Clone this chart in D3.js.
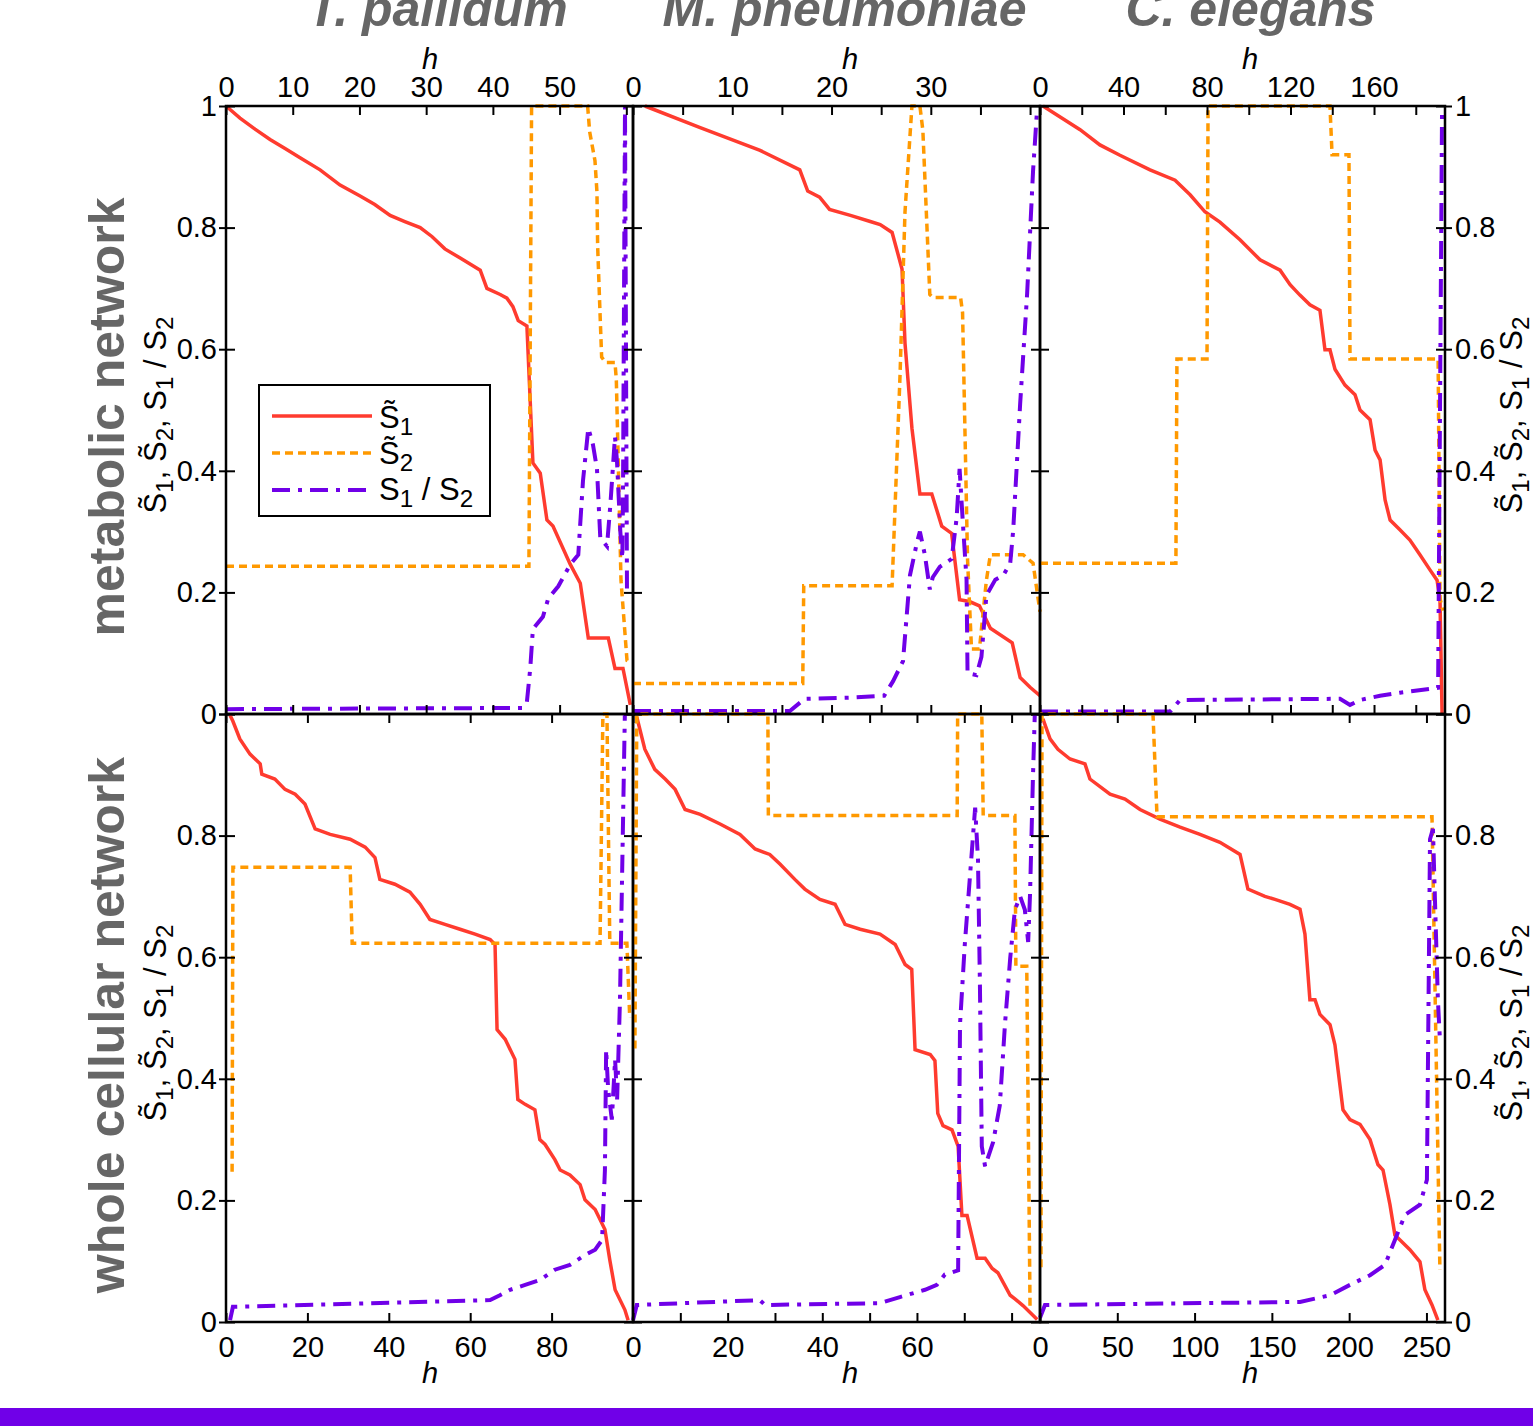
<!DOCTYPE html>
<meta charset="utf-8">
<style>
html, body {
  margin: 0;
  background: #fff;
}

svg text {
  font-family: "Liberation Sans", Arial, sans-serif;
}

.s1 {
  fill: none;
  stroke: #ff3b2f;
  stroke-width: 3.5px;
}

.s2 {
  fill: none;
  stroke: #ff9900;
  stroke-width: 3.5px;
  stroke-dasharray: 8, 5;
}

.ratio {
  fill: none;
  stroke: #7000e8;
  stroke-width: 4px;
  stroke-dasharray: 18, 8, 4, 8;
}

.frame {
  fill: none;
  stroke: #000;
  stroke-width: 2.5px;
}

.tick line {
  stroke: #000;
  stroke-width: 2px;
}
</style>

<svg width="1533" height="1426"></svg>

<script src="https://d3js.org/d3.v7.min.js"></script>
<script>

// --- data: [h, value] pairs ---

// T. pallidum, metabolic network
var tpMetS1 = [[0,1],[2.1,0.98],[4.35,0.962],[6.6,0.945],[8.85,0.93],[11.1,0.915],[14.1,0.895],[17.1,0.87],[20.1,0.852],[22.3,0.838],[24.6,0.82],[26.8,0.81],[29.1,0.8],[30.9,0.785],[32.8,0.765],[35.1,0.75],[38.1,0.73],[39.1,0.7],[41.1,0.69],[42.1,0.684],[43.0,0.67],[43.8,0.647],[45.1,0.638],[46.0,0.413],[47.1,0.396],[48.1,0.319],[49.0,0.309],[51.6,0.246],[53.1,0.215],[54.3,0.125],[57.3,0.125],[58.3,0.075],[59.5,0.075],[60.6,0.015]];
var tpMetS2 = [[0,0.243],[45.4,0.243],[45.8,1],[54.2,1],[54.5,0.958],[55.3,0.91],[55.6,0.858],[55.7,0.77],[56.0,0.677],[56.3,0.587],[56.9,0.578],[58.3,0.578],[58.5,0.55],[59.2,0.22],[60.1,0.088],[60.6,0.085]];
var tpMetRatio = [[0,0.008],[44.4,0.01],[45.1,0.02],[45.6,0.075],[46.0,0.14],[47.5,0.16],[48.3,0.19],[49.8,0.21],[51.6,0.246],[52.8,0.262],[53.5,0.383],[54.3,0.47],[55.0,0.443],[55.6,0.403],[56.1,0.289],[57.1,0.276],[57.6,0.343],[58.3,0.456],[58.6,0.416],[59.1,0.3],[59.4,0.256],[59.5,0.36],[59.8,1],[60.1,0.2]];

// M. pneumoniae, metabolic network
var mpMetS1 = [[1.2,1],[6.7,0.965],[12.8,0.927],[16.8,0.895],[17.6,0.86],[18.8,0.85],[19.8,0.83],[21.9,0.82],[23.9,0.81],[24.9,0.805],[26.1,0.792],[27.1,0.732],[27.4,0.61],[28.1,0.47],[28.9,0.362],[30.1,0.362],[31.1,0.309],[32.1,0.297],[32.9,0.188],[33.9,0.185],[34.9,0.178],[36.0,0.141],[38.2,0.117],[39.0,0.06],[40.0,0.044],[41.0,0.03]];
var mpMetS2 = [[0,0.05],[17.1,0.05],[17.2,0.211],[26.1,0.211],[26.9,0.557],[27.4,0.826],[28.1,1],[28.9,1],[29.2,0.96],[29.9,0.69],[30.2,0.685],[33.0,0.685],[33.2,0.66],[33.7,0.255],[34.1,0.107],[34.9,0.107],[35.6,0.22],[36.0,0.262],[39.3,0.262],[40.3,0.248],[41.0,0.168]];
var mpMetRatio = [[0,0.005],[15.8,0.005],[17.3,0.025],[21.9,0.027],[25.3,0.03],[26.2,0.054],[27.2,0.087],[27.9,0.228],[28.6,0.282],[28.9,0.3],[29.4,0.262],[29.9,0.205],[30.2,0.225],[30.9,0.242],[32.1,0.255],[32.6,0.322],[32.9,0.403],[33.2,0.322],[33.6,0.221],[33.7,0.067],[34.6,0.064],[35.1,0.094],[35.6,0.195],[36.5,0.221],[37.3,0.228],[38.0,0.248],[38.3,0.302],[39.0,0.51],[39.7,0.69],[40.3,0.893],[40.7,0.993]];

// C. elegans, metabolic network
var ceMetS1 = [[1.4,1],[19.2,0.961],[28.7,0.936],[38.3,0.919],[52.7,0.895],[64.7,0.878],[71.9,0.854],[79.0,0.826],[86.2,0.809],[95.8,0.78],[105.4,0.747],[115.0,0.73],[119.8,0.706],[124.5,0.689],[129.3,0.673],[134.1,0.664],[136.5,0.599],[138.9,0.599],[141.3,0.567],[146.1,0.541],[150.9,0.525],[153.3,0.5],[158.1,0.484],[160.5,0.434],[162.9,0.418],[165.3,0.352],[167.7,0.319],[172.4,0.303],[177.2,0.286],[182.0,0.262],[186.8,0.237],[190.2,0.22],[191.6,0.188],[192.6,0]];
var ceMetS2 = [[0,0.248],[65.1,0.248],[65.6,0.584],[80.0,0.584],[80.5,1],[138.9,1],[139.9,0.92],[148.0,0.92],[148.5,0.584],[190.7,0.584],[191.6,0.19],[193.0,0.17]];
var ceMetRatio = [[0,0.004],[62.3,0.004],[67.1,0.023],[143.7,0.025],[148.5,0.015],[153.3,0.023],[162.9,0.03],[172.4,0.035],[190.7,0.043],[192.6,1]];

// T. pallidum, whole cellular network
var tpCellS1 = [[1.0,0.998],[1.7,0.988],[3.4,0.959],[5.9,0.934],[8.4,0.918],[8.8,0.901],[12.0,0.893],[14.5,0.876],[17.0,0.868],[19.4,0.852],[21.9,0.811],[25.6,0.802],[30.5,0.794],[34.2,0.781],[36.6,0.764],[37.8,0.728],[41.5,0.72],[45.2,0.707],[47.7,0.687],[50.1,0.662],[53.8,0.654],[57.5,0.646],[61.2,0.638],[64.9,0.629],[66.1,0.621],[66.6,0.481],[68.6,0.465],[71.0,0.432],[71.7,0.366],[73.5,0.358],[75.9,0.349],[77.1,0.3],[78.4,0.292],[80.8,0.267],[82.1,0.25],[84.5,0.242],[87.0,0.226],[88.2,0.201],[90.7,0.185],[93.1,0.152],[94.3,0.102],[95.6,0.053],[98.0,0.02],[98.8,0.003]];
var tpCellS2 = [[1.5,0.247],[1.7,0.748],[30.5,0.748],[31.0,0.623],[91.9,0.623],[92.6,1],[93.6,1],[94.3,0.623],[98.5,0.623],[99.2,0.5]];
var tpCellRatio = [[1.0,0.003],[1.7,0.025],[64.9,0.036],[67.3,0.044],[69.8,0.053],[73.5,0.061],[77.1,0.069],[80.8,0.086],[84.5,0.094],[88.2,0.11],[90.7,0.119],[92.4,0.135],[93.1,0.25],[93.4,0.448],[93.9,0.382],[94.8,0.333],[95.6,0.432],[96.1,0.366],[96.8,0.53],[98.0,1]];

// M. pneumoniae, whole cellular network
var mpCellS1 = [[0.8,0.995],[2.5,0.942],[4.6,0.909],[6.8,0.893],[8.9,0.876],[11.0,0.843],[14.2,0.835],[18.4,0.819],[22.6,0.802],[25.8,0.778],[28.9,0.769],[31.1,0.753],[34.2,0.728],[36.3,0.712],[39.5,0.695],[42.7,0.687],[44.8,0.654],[48.0,0.646],[52.2,0.638],[55.4,0.621],[57.5,0.588],[58.9,0.58],[59.6,0.448],[62.8,0.44],[63.8,0.43],[64.4,0.343],[65.5,0.323],[67.4,0.316],[68.7,0.289],[69.5,0.175],[70.6,0.175],[72.7,0.105],[74.4,0.105],[75.9,0.088],[77.1,0.081],[79.7,0.044],[80.7,0.038],[82.4,0.027],[84.5,0.011],[85.4,0.004]];
var mpCellS2 = [[0.4,0.45],[0.8,1],[28.5,1],[28.6,0.833],[68.5,0.833],[68.6,1],[73.7,1],[74.0,0.833],[80.7,0.833],[80.9,0.585],[83.2,0.585],[83.9,0.02]];
var mpCellRatio = [[0,0.003],[0.8,0.028],[26.8,0.036],[27.9,0.028],[52.2,0.031],[56.4,0.041],[61.7,0.053],[64.2,0.061],[65.9,0.078],[68.7,0.085],[69.1,0.49],[70.1,0.62],[72.3,0.846],[72.9,0.76],[73.3,0.558],[73.7,0.289],[74.4,0.256],[76.1,0.296],[77.5,0.356],[78.6,0.49],[79.7,0.598],[80.7,0.678],[81.8,0.7],[82.8,0.678],[83.5,0.625],[83.9,0.705],[84.5,0.893],[84.9,1]];

// C. elegans, whole cellular network
var ceCellS1 = [[1.9,0.992],[6.5,0.959],[11.6,0.942],[19.4,0.926],[29.1,0.918],[32.3,0.893],[45.3,0.868],[55.0,0.86],[64.7,0.843],[77.6,0.827],[90.6,0.814],[103.5,0.802],[116.4,0.789],[129.4,0.769],[134.5,0.712],[145.5,0.7],[152.0,0.695],[161.7,0.687],[168.2,0.679],[171.4,0.638],[174.6,0.53],[177.9,0.53],[181.1,0.506],[187.6,0.489],[190.8,0.456],[196.0,0.349],[200.5,0.333],[207.0,0.325],[213.5,0.3],[218.6,0.259],[221.9,0.25],[226.4,0.193],[229.6,0.143],[232.9,0.135],[239.3,0.119],[245.8,0.099],[249.0,0.053],[253.6,0.028],[257.4,0.003]];
var ceCellS2 = [[0.6,0.09],[1.3,1],[73.1,1],[75.7,0.831],[253.6,0.831],[258.7,0.086]];
var ceCellRatio = [[0,0.007],[3.2,0.028],[168.2,0.033],[187.6,0.044],[200.5,0.061],[213.5,0.077],[223.2,0.094],[229.6,0.135],[236.1,0.176],[245.8,0.193],[250.3,0.234],[252.3,0.794],[254.2,0.811],[255.5,0.695],[257.4,0.53],[258.7,0.465]];

var organisms = ['T. pallidum', 'M. pneumoniae', 'C. elegans'];
var networks = ['metabolic network', 'whole cellular network'];
var yTicks = [0, 0.2, 0.4, 0.6, 0.8, 1];

// --- layout ---
var colX = [226, 633, 1040, 1445];
var rowY = [106, 714, 1322];
var hLabelX = [430, 850, 1250];

var panels = [
  {row: 0, col: 0, xMax: 61,  ticks: d3.range(0, 61, 10),  labels: [0, 10, 20, 30, 40, 50], series: [tpMetS1, tpMetS2, tpMetRatio]},
  {row: 0, col: 1, xMax: 41,  ticks: d3.range(0, 41, 5),   labels: [0, 10, 20, 30],         series: [mpMetS1, mpMetS2, mpMetRatio]},
  {row: 0, col: 2, xMax: 194, ticks: d3.range(0, 194, 20), labels: [0, 40, 80, 120, 160],   series: [ceMetS1, ceMetS2, ceMetRatio]},
  {row: 1, col: 0, xMax: 100, ticks: d3.range(0, 100, 20), labels: [0, 20, 40, 60, 80],     series: [tpCellS1, tpCellS2, tpCellRatio]},
  {row: 1, col: 1, xMax: 86,  ticks: d3.range(0, 86, 10),  labels: [0, 20, 40, 60],         series: [mpCellS1, mpCellS2, mpCellRatio]},
  {row: 1, col: 2, xMax: 262, ticks: d3.range(0, 262, 50), labels: [0, 50, 100, 150, 200, 250], series: [ceCellS1, ceCellS2, ceCellRatio]}
];
var seriesClass = ['s1', 's2', 'ratio'];

var svg = d3.select('svg');

// subscripted labels: S~1, S~2, S1 / S2
var yTitle = [['S\u0303', '1'], [', S\u0303', '2'], [', S', '1'], [' / S', '2']];
var legendItems = [[['S\u0303', '1']], [['S\u0303', '2']], [['S', '1'], [' / S', '2']]];

function mathText(text, parts, size) {
  var shift = 0;
  parts.forEach(function (p) {
    text.append('tspan').attr('dy', -shift).text(p[0]);
    text.append('tspan').attr('font-size', size * 0.78).attr('dy', size * 0.24).text(p[1]);
    shift = size * 0.24;
  });
}

panels.forEach(function (p) {
  var x = d3.scaleLinear().domain([0, p.xMax]).range([colX[p.col], colX[p.col + 1]]);
  var y = d3.scaleLinear().domain([0, 1]).range([rowY[p.row + 1], rowY[p.row]]);
  var g = svg.append('g');

  var line = d3.line()
    .x(function (d) { return x(d[0]); })
    .y(function (d) { return y(d[1]); });

  p.series.forEach(function (s, i) {
    g.append('path').datum(s).attr('class', seriesClass[i]).attr('d', line);
  });

  g.append('rect')
    .attr('class', 'frame')
    .attr('x', x.range()[0]).attr('y', y.range()[1])
    .attr('width', x.range()[1] - x.range()[0])
    .attr('height', y.range()[0] - y.range()[1]);

  var xFmt = function (d) { return p.labels.indexOf(d) >= 0 ? d : ''; };
  var none = function () { return ''; };
  var yFmt = function (d) {
    if (p.row === 1 && d === 1) return '';
    return d3.format('~g')(d);
  };

  var axes = [
    [d3.axisTop(x).tickValues(p.ticks).tickPadding(9).tickFormat(p.row === 0 ? xFmt : none), 0, y.range()[1]],
    [d3.axisBottom(x).tickValues(p.ticks).tickPadding(14).tickFormat(p.row === 1 ? xFmt : none), 0, y.range()[0]],
    [d3.axisLeft(y).tickValues(yTicks).tickPadding(9).tickFormat(p.col === 0 ? yFmt : none), x.range()[0], 0],
    [d3.axisRight(y).tickValues(yTicks).tickPadding(10).tickFormat(p.col === 2 ? yFmt : none), x.range()[1], 0]
  ];
  axes.forEach(function (a) {
    var ag = g.append('g')
      .attr('transform', 'translate(' + a[1] + ',' + a[2] + ')')
      .call(a[0].tickSizeInner(-9).tickSizeOuter(0));
    ag.attr('font-size', 29).attr('font-family', null);
    ag.select('.domain').remove();
    ag.selectAll('.tick text').attr('fill', '#000')
      .filter(function () { return this.textContent === ''; }).remove();
  });

  // short outward ticks on the outer vertical edges
  if (p.col === 0 || p.col === 2) {
    var outer = (p.col === 0 ? d3.axisLeft(y) : d3.axisRight(y))
      .tickValues(yTicks).tickSizeInner(7).tickSizeOuter(0).tickFormat(none);
    var og = g.append('g')
      .attr('transform', 'translate(' + (p.col === 0 ? x.range()[0] : x.range()[1]) + ',0)')
      .call(outer);
    og.select('.domain').remove();
    og.selectAll('.tick text').remove();
  }
});

// axis titles "h"
[0, 1].forEach(function (r) {
  hLabelX.forEach(function (hx) {
    svg.append('text')
      .attr('x', hx)
      .attr('y', r === 0 ? 69 : 1383)
      .attr('text-anchor', 'middle')
      .attr('font-size', 29)
      .attr('font-style', 'italic')
      .text('h');
  });
});

// y titles left and right
[0, 1].forEach(function (r) {
  var cy = (rowY[r] + rowY[r + 1]) / 2 + 5;
  [166, 1522].forEach(function (bx) {
    var t = svg.append('text')
      .attr('transform', 'translate(' + bx + ',' + cy + ') rotate(-90)')
      .attr('text-anchor', 'middle')
      .attr('font-size', 31);
    mathText(t, yTitle, 31);
  });
});

// column titles
organisms.forEach(function (name, i) {
  svg.append('text')
    .attr('x', (colX[i] + colX[i + 1]) / 2 + 8)
    .attr('y', 26)
    .attr('text-anchor', 'middle')
    .attr('font-size', 50)
    .attr('font-weight', 'bold')
    .attr('font-style', 'italic')
    .attr('fill', '#666')
    .text(name);
});

// row titles
networks.forEach(function (name, r) {
  svg.append('text')
    .attr('transform', 'translate(124,' + ((rowY[r] + rowY[r + 1]) / 2 + 7) + ') rotate(-90)')
    .attr('text-anchor', 'middle')
    .attr('font-size', 50)
    .attr('font-weight', 'bold')
    .attr('fill', '#666')
    .text(name);
});

// legend
var legend = svg.append('g').attr('transform', 'translate(259,385)');
legend.append('rect')
  .attr('width', 231).attr('height', 131)
  .attr('fill', '#fff').attr('stroke', '#000').attr('stroke-width', 2);
legendItems.forEach(function (item, i) {
  legend.append('line')
    .attr('class', seriesClass[i])
    .attr('x1', 13).attr('x2', 113)
    .attr('y1', 31 + i * 37).attr('y2', 31 + i * 37);
  var t = legend.append('text')
    .attr('x', 120)
    .attr('y', 43 + i * 36)
    .attr('font-size', 31);
  mathText(t, item, 31);
});

// bottom band
svg.append('rect')
  .attr('x', 0).attr('y', 1408)
  .attr('width', 1533).attr('height', 18)
  .attr('fill', '#7000e8');
</script>
